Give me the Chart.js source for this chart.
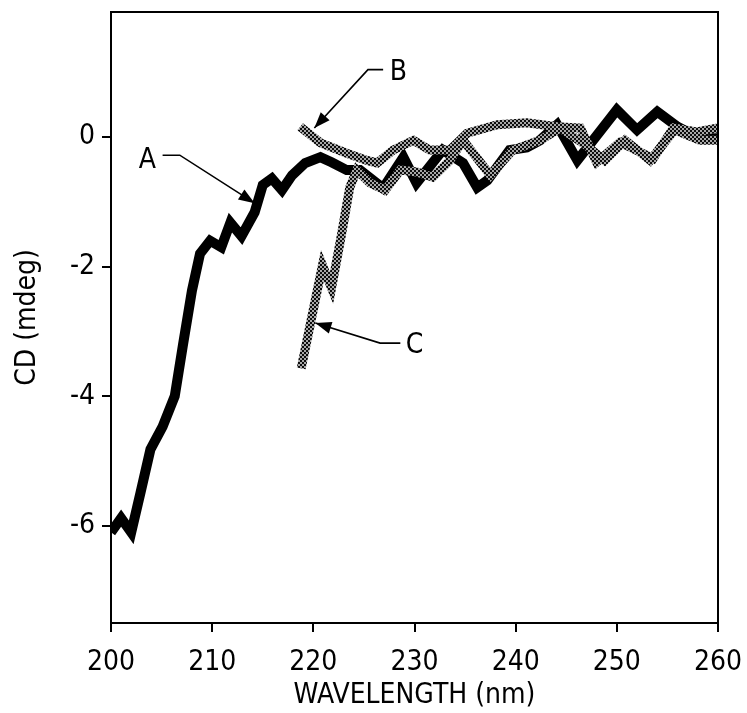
<!DOCTYPE html>
<html><head><meta charset="utf-8">
<script src="https://cdn.jsdelivr.net/npm/chart.js@4/dist/chart.umd.min.js"></script>
<style>html,body{margin:0;padding:0;background:#fff}#wrap{width:747px;height:713px}</style>
</head><body><div id="wrap"><canvas id="c"></canvas></div>
<script>
// ---- data (wavelength nm, CD mdeg) ----
const waveA = [200,201,202,202.9,203.9,205.1,206.3,207.1,208,208.8,209.8,210.9,211.8,212.9,214.2,215,215.9,216.9,217.9,219.2,220.7,221.8,223.3,224.6,226.9,228.9,230.2,232.8,234.8,236.2,237.2,239.4,241.1,242.4,244.1,246.1,250,252,254,256,258.2,260];
const cdA   = [-6.1,-5.88,-6.1,-5.5,-4.82,-4.47,-4.0,-3.22,-2.37,-1.8,-1.6,-1.7,-1.32,-1.53,-1.16,-0.74,-0.64,-0.82,-0.59,-0.4,-0.31,-0.39,-0.51,-0.51,-0.79,-0.31,-0.71,-0.2,-0.4,-0.78,-0.67,-0.2,-0.16,-0.05,0.19,-0.36,0.42,0.11,0.39,0.16,-0.02,-0.02];
const waveB = [218.7,220.7,223.3,225.3,226.3,227.9,229.9,231.5,233.5,235.2,238.2,241.1,244.1,246.4,248.0,250.3,253.6,255.6,257.9,260];
const cdB   = [0.16,-0.09,-0.25,-0.36,-0.40,-0.20,-0.05,-0.20,-0.20,0.06,0.19,0.22,0.16,0.14,-0.39,-0.08,-0.33,0.14,0.08,0.14];
const waveC = [218.8,220.9,221.8,222.8,223.6,224.3,225.6,227.1,228.6,230.2,231.8,233.5,234.8,237.5,239.7,242.4,244.4,246.9,248.8,250.8,253.3,255.7,258.2,260];
const cdC   = [-3.57,-1.98,-2.33,-1.49,-0.78,-0.51,-0.71,-0.82,-0.51,-0.54,-0.62,-0.36,-0.05,-0.59,-0.2,-0.05,0.14,-0.12,-0.36,-0.05,-0.36,0.11,-0.05,-0.05];
const xTicks = [200,210,220,230,240,250,260];
const yTicks = [-6,-4,-2,0];
// annotation labels: [text, textX, textY, lineStartX, cornerX, cornerY, tipX, tipY]
const labelA = ['A', 203.6, -0.36, 205.1, 206.8, -0.28, 214.2, -1.02];
const labelB = ['B', 228.4, 0.99, 226.9, 225.4, 1.04, 220.1, 0.14];
const labelC = ['C', 230.0, -3.22, 228.6, 226.6, -3.18, 220.2, -2.87];

const pts = (xs, ys) => xs.map((x, i) => ({x, y: ys[i]}));
const FONT = "'DejaVu Sans Condensed','DejaVu Sans',sans-serif";
const FS = 28;

function halftone() {
  const p = document.createElement('canvas');
  p.width = 4; p.height = 4;
  const g = p.getContext('2d');
  g.fillStyle = '#0d0d0d';
  g.fillRect(0,0,2,2); g.fillRect(2,2,2,2);
  g.fillStyle = '#a8a8a8';
  g.fillRect(2,0,2,2); g.fillRect(0,2,2,2);
  return g.createPattern(p, 'repeat');
}
const grayPat = halftone();

const annotate = {
  id: 'annotate',
  afterDatasetsDraw(chart) {
    const {ctx, chartArea: a, scales: {x, y}} = chart;
    ctx.save();
    ctx.strokeStyle = '#000'; ctx.lineWidth = 2;
    ctx.strokeRect(a.left, a.top, a.right - a.left, a.bottom - a.top);
    ctx.font = FS + 'px ' + FONT;
    ctx.fillStyle = '#000';
    ctx.textAlign = 'center'; ctx.textBaseline = 'middle';
    for (const L of [labelA, labelB, labelC]) {
      const [t, tx, ty, sx, cx, cy, px, py] = L;
      ctx.fillText(t, x.getPixelForValue(tx), y.getPixelForValue(ty));
      const x0 = x.getPixelForValue(sx), y0 = y.getPixelForValue(cy);
      const x1 = x.getPixelForValue(cx);
      const x2 = x.getPixelForValue(px), y2 = y.getPixelForValue(py);
      ctx.lineWidth = 1.6;
      ctx.beginPath(); ctx.moveTo(x0, y0); ctx.lineTo(x1, y0); ctx.lineTo(x2, y2); ctx.stroke();
      const ang = Math.atan2(y2 - y0, x2 - x1);
      const len = 16, w = 6;
      ctx.beginPath();
      ctx.moveTo(x2, y2);
      ctx.lineTo(x2 - len*Math.cos(ang) + w*Math.sin(ang), y2 - len*Math.sin(ang) - w*Math.cos(ang));
      ctx.lineTo(x2 - len*Math.cos(ang) - w*Math.sin(ang), y2 - len*Math.sin(ang) + w*Math.cos(ang));
      ctx.closePath(); ctx.fill();
    }
    ctx.restore();
  }
};

new Chart(document.getElementById('c'), {
  type: 'line',
  data: {
    datasets: [
      {label: 'B', data: pts(waveB, cdB), borderColor: grayPat, borderWidth: 9, pointRadius: 0, tension: 0, borderJoinStyle: 'miter', order: 2},
      {label: 'A', data: pts(waveA, cdA), borderColor: '#000', borderWidth: 10, pointRadius: 0, tension: 0, borderJoinStyle: 'miter', order: 3},
      {label: 'C', data: pts(waveC, cdC), borderColor: grayPat, borderWidth: 9, pointRadius: 0, tension: 0, borderJoinStyle: 'miter', order: 1}
    ]
  },
  options: {
    responsive: true, maintainAspectRatio: false, animation: false,
    layout: {padding: {top: 12, right: 29, left: 0, bottom: 0}},
    plugins: {legend: {display: false}, tooltip: {enabled: false}},
    scales: {
      x: {
        type: 'linear', min: 200, max: 260,
        afterBuildTicks: s => { s.ticks = xTicks.map(v => ({value: v})); },
        afterFit: s => { s.height = 90; s.paddingLeft = 0; s.paddingRight = 0; },
        grid: {drawOnChartArea: false, drawTicks: true, tickLength: 9, color: '#000', lineWidth: 2},
        border: {display: true, color: '#000', width: 2},
        ticks: {color: '#000', font: {family: FONT, size: FS}, padding: 14, maxRotation: 0},
        title: {display: true, text: 'WAVELENGTH (nm)', color: '#000', font: {family: FONT, size: FS}, padding: {top: -4, bottom: 0}}
      },
      y: {
        type: 'linear', min: -7.5, max: 1.93,
        afterBuildTicks: s => { s.ticks = yTicks.map(v => ({value: v})); },
        afterFit: s => { s.width = 111; s.paddingTop = 0; s.paddingBottom = 0; },
        grid: {drawOnChartArea: false, drawTicks: true, tickLength: 9, color: '#000', lineWidth: 2},
        border: {display: true, color: '#000', width: 2},
        ticks: {color: '#000', font: {family: FONT, size: FS}, padding: 7},
        title: {display: true, text: 'CD (mdeg)', color: '#000', font: {family: FONT, size: FS}, padding: {top: 11, bottom: 0}}
      }
    }
  },
  plugins: [annotate]
});
</script></body></html>
